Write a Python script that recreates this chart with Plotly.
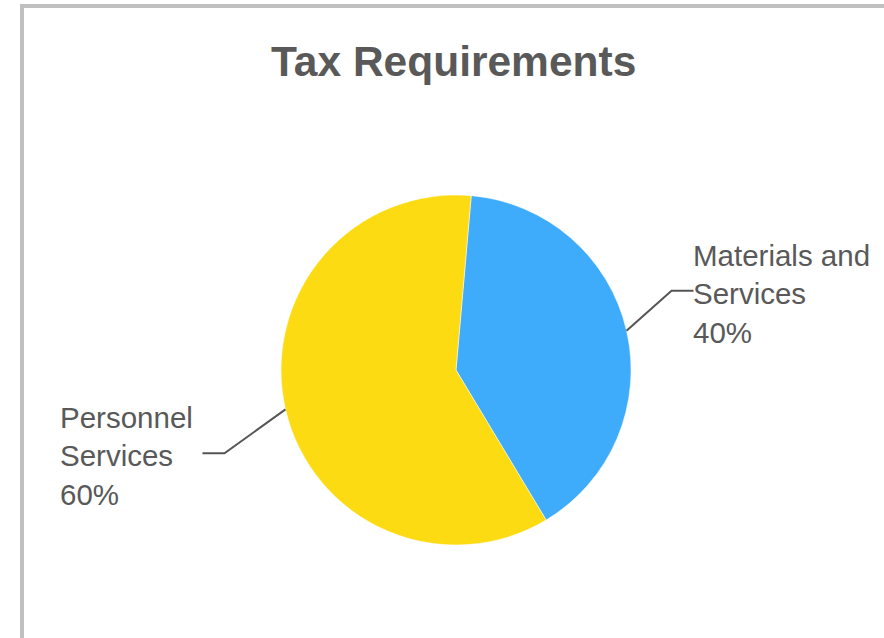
import math
import plotly.graph_objects as go

# Data
categories = ["Personnel Services", "Materials and Services"]
label_lines = [["Personnel", "Services"], ["Materials and", "Services"]]
values = [60, 40]
colors = ["#fcdb12", "#3fabfb"]

title_text = "Tax Requirements"

W, H = 884, 638
FONT = "Arial, Liberation Sans, sans-serif"
TEXT_COLOR = "#595959"

# pie geometry in pixels
cx, cy, r = 456, 370, 175
rotation = 5  # degrees clockwise from 12 o'clock where the first slice starts

def px_x(x):
    return x / W

def px_y(y):
    return 1 - y / H

# draw order: start with the blue slice at the top, going clockwise
order = [1, 0]
total = sum(values)

fig = go.Figure(
    go.Pie(
        labels=[categories[i] for i in order],
        values=[values[i] for i in order],
        marker=dict(colors=[colors[i] for i in order], line=dict(color="#ffffff", width=0.5)),
        sort=False,
        direction="clockwise",
        rotation=rotation,
        textinfo="none",
        hoverinfo="label+percent",
        showlegend=False,
        domain=dict(x=[px_x(cx - r), px_x(cx + r)], y=[px_y(cy + r), px_y(cy - r)]),
    )
)

shapes = []
annotations = []

# leader lines and outside labels, placed from each slice's mid angle
start = rotation
for i in order:
    span = 360 * values[i] / total
    mid = math.radians(start + span / 2)
    start += span
    sx = cx + r * math.sin(mid)
    sy = cy - r * math.cos(mid)
    right = math.sin(mid) >= 0
    if right:
        ex, ey = sx + 45, sy - 40
        hx = ex + 22
    else:
        ex, ey = sx - 61, sy + 44
        hx = ex - 22
    shapes.append(dict(
        type="path", xref="paper", yref="paper",
        path=f"M {px_x(sx)} {px_y(sy)} L {px_x(ex)} {px_y(ey)} L {px_x(hx)} {px_y(ey)}",
        line=dict(color="#555555", width=2),
    ))
    pct = f"{round(100 * values[i] / total)}%"
    text = "<br>".join(label_lines[i] + [pct])
    annotations.append(dict(
        x=px_x(hx - 3 if right else hx - 7), y=px_y(ey + 3),
        xref="paper", yref="paper",
        xanchor="left" if right else "right", yanchor="middle",
        align="left", showarrow=False, text=text,
        font=dict(family=FONT, size=29.5, color=TEXT_COLOR),
    ))

# title
annotations.append(dict(
    x=px_x(454), y=px_y(62), xref="paper", yref="paper",
    xanchor="center", yanchor="middle", showarrow=False,
    text=f"<b>{title_text}</b>",
    font=dict(family=FONT, size=42.5, color=TEXT_COLOR),
))

# outer frame (left and top edges visible)
shapes.append(dict(
    type="rect", xref="paper", yref="paper",
    x0=px_x(22), x1=px_x(W + 20), y0=px_y(H + 20), y1=px_y(6),
    line=dict(color="#c0c0c0", width=4), fillcolor="rgba(0,0,0,0)",
))

fig.update_layout(
    width=W, height=H,
    margin=dict(l=0, r=0, t=0, b=0),
    paper_bgcolor="#ffffff",
    plot_bgcolor="#ffffff",
    shapes=shapes,
    annotations=annotations,
)

fig.write_html("out.html")
